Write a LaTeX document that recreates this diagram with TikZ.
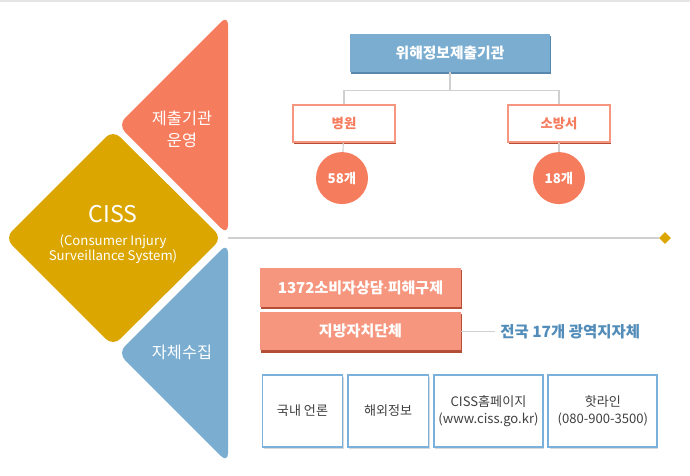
\documentclass[tikz,border=0pt]{standalone}
\usepackage{fontspec}
\setmainfont{Noto Sans CJK KR}
\newfontfamily\latinfont{Noto Sans}
\usetikzlibrary{shapes.geometric}
\usetikzlibrary{positioning}
\usetikzlibrary{shadows}

\definecolor{coral}{RGB}{246,124,94}
\definecolor{salmon}{RGB}{246,150,126}
\definecolor{rust}{RGB}{180,78,55}
\definecolor{gold}{RGB}{219,166,0}
\definecolor{skyblue}{RGB}{122,173,208}
\definecolor{deepblue}{RGB}{85,135,175}
\definecolor{lineblue}{RGB}{122,176,220}
\definecolor{textblue}{RGB}{82,140,185}
\definecolor{linegray}{RGB}{208,208,208}

\tikzstyle{wedge} = [rounded corners=7pt]
\tikzstyle{wedgetext} = [text=white, align=center, font=\fontsize{11.6}{15.6}\selectfont]
\tikzstyle{organ} = [rectangle, minimum width=5cm, minimum height=0.95cm, text centered, fill=skyblue, text=white, font=\fontsize{10.5}{12}\selectfont\bfseries, general shadow={fill=deepblue, shadow xshift=0.5pt, shadow yshift=-1.4pt}]
\tikzstyle{site} = [rectangle, minimum width=2.55cm, minimum height=0.925cm, text centered, draw=salmon, line width=1.4pt, fill=white, text=coral, font=\fontsize{9.5}{11}\selectfont\bfseries, general shadow={fill=rust, shadow xshift=0.6pt, shadow yshift=-1.4pt}]
\tikzstyle{count} = [circle, minimum size=1.3cm, inner sep=0pt, fill=coral, text=white, font=\fontsize{9.5}{11}\selectfont\bfseries]
\tikzstyle{channel} = [rectangle, minimum width=5.025cm, minimum height=0.96cm, text centered, fill=salmon, text=white, font=\fontsize{10.7}{12}\selectfont\bfseries, general shadow={fill=rust, shadow xshift=0.6pt, shadow yshift=-1.5pt}]
\tikzstyle{source} = [rectangle, minimum height=1.8cm, align=center, draw=lineblue, line width=1.4pt, fill=white, text=black!75, font=\fontsize{9.3}{12.5}\selectfont, general shadow={fill=black!15, shadow xshift=0.8pt, shadow yshift=-1.2pt}]
\tikzstyle{link} = [draw=linegray, line width=0.8pt]

\begin{document}
\begin{tikzpicture}[x=0.025cm, y=-0.025cm]

        \useasboundingbox (0,0) rectangle (690,475);
        \fill [black!10] (0,0) rectangle (690,2);

        % left side
        \fill [coral, wedge] (228,15) -- (118,125) -- (228,235) -- cycle;
        \fill [skyblue, wedge] (228,243) -- (118,353) -- (228,463) -- cycle;
        \fill [gold, wedge] (5,238) -- (113,130) -- (222,238) -- (113,346) -- cycle;

        \node (submit) [wedgetext] at (182,129) {제출기관\\운영};
        \node (collect) [wedgetext] at (182,352) {자체수집};
        \node (ciss) [text=white, font=\fontsize{16.4}{18}\selectfont] at (113,214) {CISS};
        \node (cissfull) [text=white, align=center, font=\fontsize{9.4}{10.7}\selectfont] at (113,249) {(Consumer Injury\\Surveillance System)};

        \coordinate (rayStart) at (228,238);
        \node (rayEnd) [diamond, fill=gold, inner sep=0pt, minimum size=0.3cm] at (665,238) {};
        \draw [link] (rayStart) -- (rayEnd);

        % submitting organisations
        \node (organ) [organ] at (450,53) {위해정보제출기관};
        \node (hospital) [site] at (344,123.5) {병원};
        \node (fire) [site] at (559,123.5) {소방서};
        \node (hcount) [count, below=0.22cm of hospital, xshift=-0.05cm] {58개};
        \node (fcount) [count, below=0.22cm of fire] {18개};

        \draw [link] (organ.south) -- ++(0,18) -| (hospital.north);
        \draw [link] (organ.south) -- ++(0,18) -| (fire.north);
        \draw [link] (hospital) -- (hcount);
        \draw [link] (fire) -- (fcount);

        % own collection
        \node (counsel) [channel] at (360.5,287.5) {1372소비자상담{\latinfont\bfseries ·}피해구제};
        \node (local) [channel, below=0.12cm of counsel] {지방자치단체};
        \node (nation) [right=0.85cm of local, text=textblue, font=\fontsize{11}{12}\selectfont\bfseries] {전국 17개 광역지자체};
        \draw [link] (local) -- (nation);

        \node (media) [source, minimum width=2cm] at (302.5,411) {국내 언론};
        \node (abroad) [source, minimum width=2.02cm, right=0.08cm of media] {해외정보};
        \node (homepage) [source, minimum width=2.68cm, right=0.08cm of abroad] {CISS홈페이지\\(www.ciss.go.kr)};
        \node (hotline) [source, minimum width=2.72cm, right=0.08cm of homepage] {핫라인\\(080-900-3500)};

\end{tikzpicture}
\end{document}
